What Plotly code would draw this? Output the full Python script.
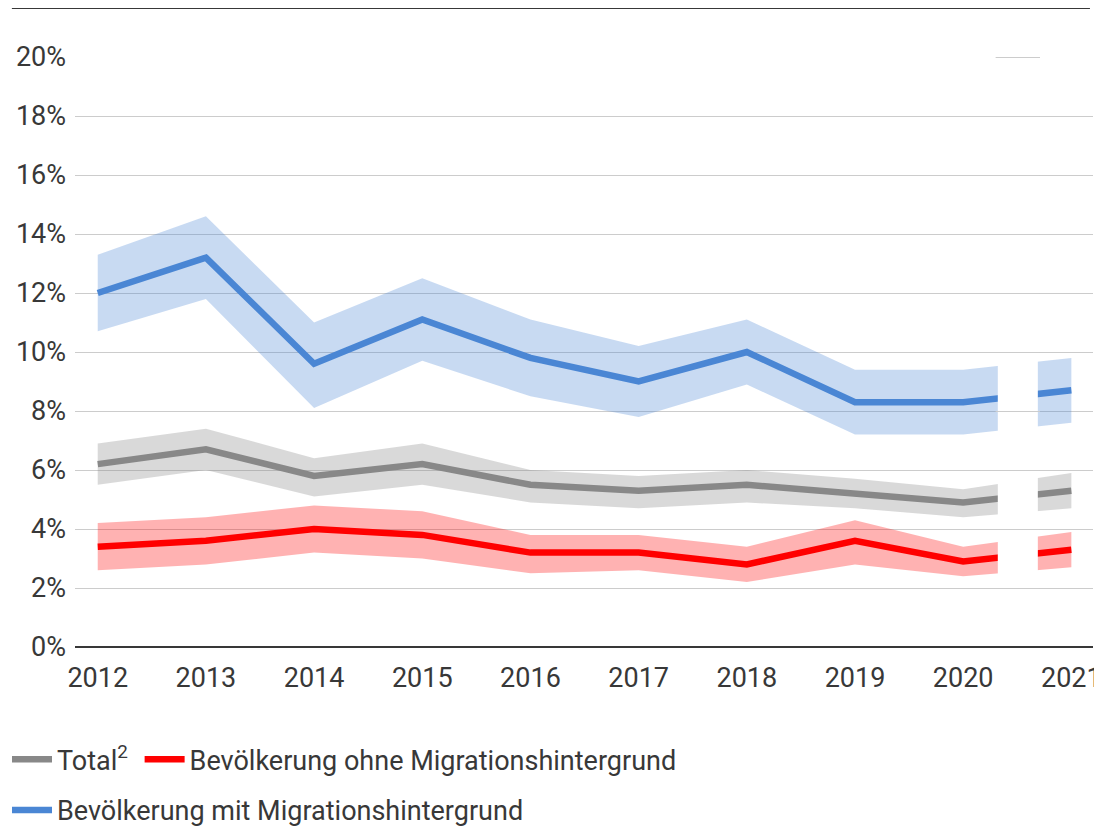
"""
Anteil nach Migrationshintergrund, 2012-2021, mit Vertrauensbändern
"""

import plotly.graph_objects as go

# Daten (in %)
jahre = [2012, 2013, 2014, 2015, 2016, 2017, 2018, 2019, 2020, 2021]

total = [6.2, 6.7, 5.8, 6.2, 5.5, 5.3, 5.5, 5.2, 4.9, 5.3]
total_unten = [5.5, 6.0, 5.1, 5.5, 4.9, 4.7, 4.9, 4.7, 4.4, 4.7]
total_oben = [6.9, 7.4, 6.4, 6.9, 6.0, 5.8, 6.0, 5.7, 5.35, 5.9]

ohne_mh = [3.4, 3.6, 4.0, 3.8, 3.2, 3.2, 2.8, 3.6, 2.9, 3.3]
ohne_mh_unten = [2.6, 2.8, 3.2, 3.0, 2.5, 2.6, 2.2, 2.8, 2.4, 2.7]
ohne_mh_oben = [4.2, 4.4, 4.8, 4.6, 3.8, 3.8, 3.4, 4.3, 3.4, 3.9]

mit_mh = [12.0, 13.2, 9.6, 11.1, 9.8, 9.0, 10.0, 8.3, 8.3, 8.7]
mit_mh_unten = [10.7, 11.8, 8.1, 9.7, 8.5, 7.8, 8.9, 7.2, 7.2, 7.6]
mit_mh_oben = [13.3, 14.6, 11.0, 12.5, 11.1, 10.2, 11.1, 9.4, 9.4, 9.8]

y_ticks = [0, 2, 4, 6, 8, 10, 12, 14, 16, 18, 20]

# Bruch in der Zeitreihe zwischen 2020 und 2021
bruch_von, bruch_bis = 2020.32, 2020.69

SCHRIFT = "Roboto, Arial, sans-serif"
TEXTFARBE = "#383838"
GITTER = "#cccccc"
GROESSE = 27
PX_PRO_PROZENT = 29.5  # 590 px Plothöhe / 20 %

serien = [
    # name, wert, unten, oben, linie, band, legende
    ("Total<sup>2</sup>\u00a0", total, total_unten, total_oben,
     "#888888", "rgba(136,136,136,0.32)", "legend"),
    ("Bevölkerung ohne Migrationshintergrund", ohne_mh, ohne_mh_unten, ohne_mh_oben,
     "#ff0000", "rgba(255,0,0,0.3)", "legend"),
    ("Bevölkerung mit Migrationshintergrund", mit_mh, mit_mh_unten, mit_mh_oben,
     "#4a86d4", "rgba(74,134,212,0.3)", "legend2"),
]

fig = go.Figure()

# Bänder zuerst, damit die Linien darüber liegen
for name, wert, unten, oben, farbe, band, leg in serien:
    fig.add_trace(go.Scatter(
        x=jahre + jahre[::-1],
        y=oben + unten[::-1],
        fill="toself",
        fillcolor=band,
        line=dict(width=0),
        mode="lines",
        hoverinfo="skip",
        showlegend=False,
    ))

for name, wert, unten, oben, farbe, band, leg in serien:
    fig.add_trace(go.Scatter(
        x=jahre,
        y=wert,
        name=name,
        mode="lines",
        line=dict(color=farbe, width=6.5),
        legend=leg,
    ))

# Weisse Lücke für den Zeitreihenbruch, Gitterlinien darüber neu zeichnen
fig.add_shape(type="rect", xref="x", yref="y",
              x0=bruch_von, x1=bruch_bis, y0=0.06, y1=20.5,
              fillcolor="white", line=dict(width=0), layer="above")
halber_px = 0.5 / PX_PRO_PROZENT
for v in y_ticks[1:]:
    fig.add_shape(type="line", xref="x", yref="y",
                  x0=bruch_von - 0.02, x1=bruch_bis + 0.02,
                  y0=v - halber_px, y1=v - halber_px,
                  line=dict(color=GITTER, width=1), layer="above")

# Obere Trennlinie
fig.add_shape(type="line", xref="paper", yref="paper",
              x0=-0.062, x1=0.997, y0=1.083, y1=1.083,
              line=dict(color=TEXTFARBE, width=2), layer="above")

legenden_font = dict(family=SCHRIFT, size=GROESSE, color=TEXTFARBE)

fig.update_layout(
    width=1094,
    height=818,
    margin=dict(l=67, r=9, t=49, b=179, autoexpand=False),
    plot_bgcolor="white",
    paper_bgcolor="white",
    font=dict(family=SCHRIFT, size=GROESSE, color=TEXTFARBE),
    showlegend=True,
    legend=dict(
        orientation="h",
        x=-0.0668,
        xanchor="left",
        y=-0.1494,
        yanchor="top",
        font=legenden_font,
        itemwidth=40,
        traceorder="normal",
    ),
    legend2=dict(
        orientation="h",
        x=-0.0668,
        xanchor="left",
        y=-0.2354,
        yanchor="top",
        font=legenden_font,
        itemwidth=40,
    ),
    xaxis=dict(
        range=[2011.79, 2021.2],
        tickvals=jahre,
        ticktext=[str(j) for j in jahre],
        showgrid=False,
        zeroline=False,
        showline=False,
        ticks="",
        ticklabelstandoff=12,
        ticklabeloverflow="allow",
        tickfont=dict(family=SCHRIFT, size=GROESSE, color=TEXTFARBE),
    ),
    yaxis=dict(
        range=[0, 20],
        tickvals=y_ticks,
        ticktext=[f"{v}%" for v in y_ticks],
        showgrid=True,
        gridcolor=GITTER,
        gridwidth=1,
        zeroline=True,
        zerolinecolor=TEXTFARBE,
        zerolinewidth=2,
        ticks="",
        ticklabelstandoff=8,
        tickfont=dict(family=SCHRIFT, size=GROESSE, color=TEXTFARBE),
    ),
)

fig.write_html("out.html")
